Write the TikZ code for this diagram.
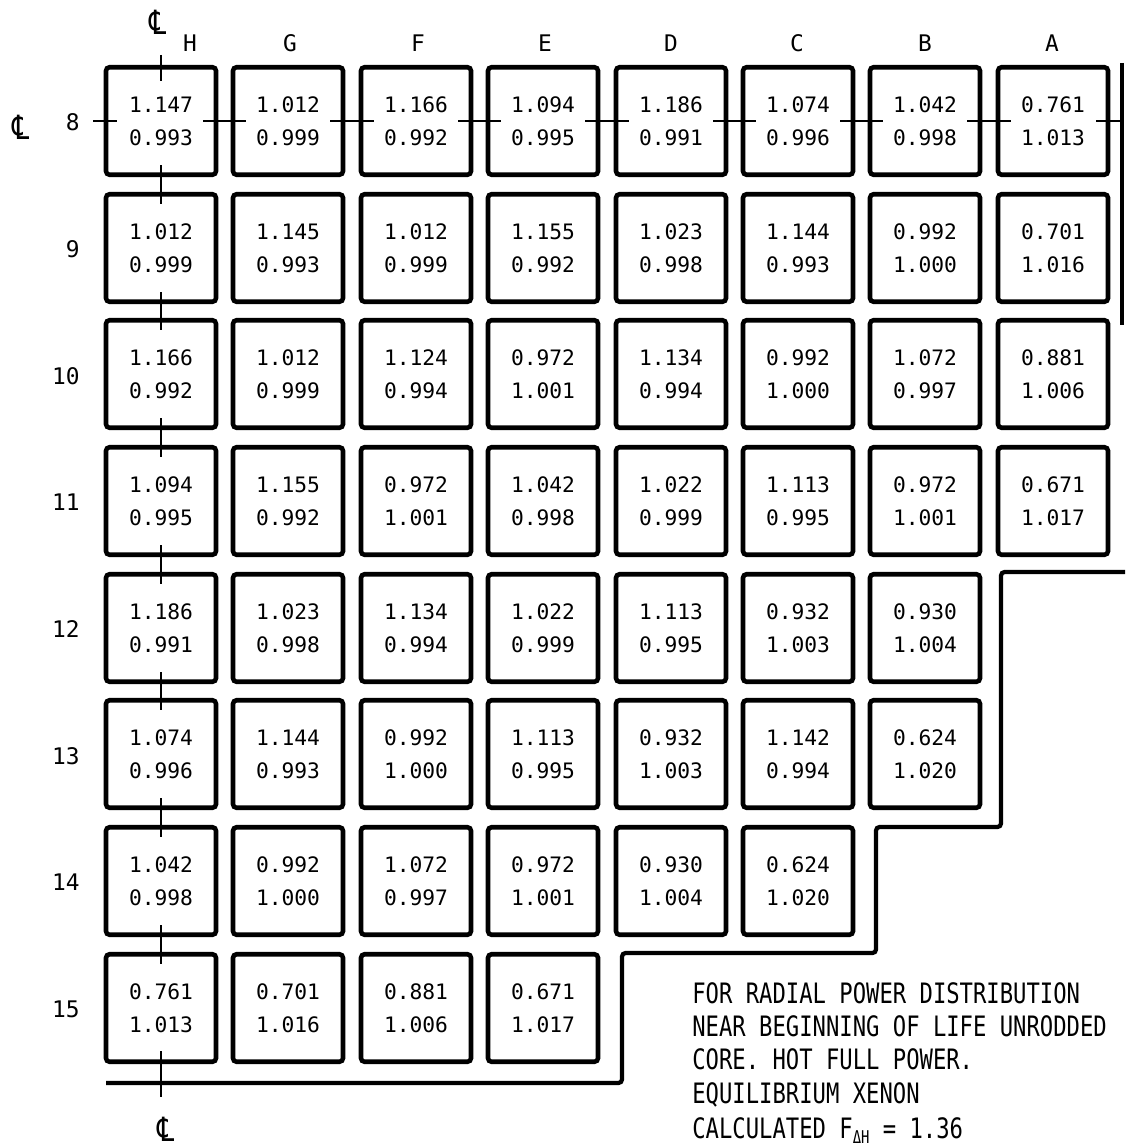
\documentclass[tikz,border=0pt]{standalone}
\usepackage{fontspec}
\usepackage{tikz}
\newfontfamily\leroy{DejaVu Sans Mono}
\newfontfamily\leroynarrow[FakeStretch=0.79]{DejaVu Sans Mono}
\newfontfamily\clfont[FakeStretch=0.8]{DejaVu Sans}
\newcommand{\clsym}{{\fontsize{19}{19}\selectfont\clfont ℄}}

\begin{document}
\begin{tikzpicture}[x=0.02cm, y=-0.02cm,
    cell/.style={draw, line width=2.6pt, rounded corners=2pt, minimum width=2.2cm, minimum height=2.15cm, inner sep=0pt, align=center, font=\fontsize{12.1}{18.8}\selectfont\leroy},
    tick/.style={line width=1.5pt},
    outline/.style={line width=2.4pt},
    hdr/.style={inner sep=0pt, font=\fontsize{13}{15}\selectfont\leroy},
    note/.style={inner sep=0pt, anchor=north west, align=left, font=\fontsize{16}{19}\selectfont\leroynarrow}]
    \useasboundingbox (0,0) rectangle (1125,1148);

    % Column and row labels
    \node[hdr] (clTop) at (158,22) {\clsym};
    \node[hdr] (colH) at (190,43) {H};
    \node[hdr] (colG) at (290,43) {G};
    \node[hdr] (colF) at (418,43) {F};
    \node[hdr] (colE) at (545,43) {E};
    \node[hdr] (colD) at (671,43) {D};
    \node[hdr] (colC) at (797,43) {C};
    \node[hdr] (colB) at (925,43) {B};
    \node[hdr] (colA) at (1052,43) {A};
    \node[hdr] (clLeft) at (21,127) {\clsym};
    \node[hdr, anchor=east] (row8) at (80,122) {8};
    \node[hdr, anchor=east] (row9) at (80,249) {9};
    \node[hdr, anchor=east] (row10) at (80,376) {10};
    \node[hdr, anchor=east] (row11) at (80,502) {11};
    \node[hdr, anchor=east] (row12) at (80,629) {12};
    \node[hdr, anchor=east] (row13) at (80,756) {13};
    \node[hdr, anchor=east] (row14) at (80,882) {14};
    \node[hdr, anchor=east] (row15) at (80,1009) {15};
    \node[hdr] (clBot) at (166,1129) {\clsym};

    % Row 8
    \node[cell] (H8) at (161,121) {1.147\\0.993};
    \node[cell] (G8) at (288,121) {1.012\\0.999};
    \node[cell] (F8) at (416,121) {1.166\\0.992};
    \node[cell] (E8) at (543,121) {1.094\\0.995};
    \node[cell] (D8) at (671,121) {1.186\\0.991};
    \node[cell] (C8) at (798,121) {1.074\\0.996};
    \node[cell] (B8) at (925,121) {1.042\\0.998};
    \node[cell] (A8) at (1053,121) {0.761\\1.013};

    % Row 9
    \node[cell] (H9) at (161,248) {1.012\\0.999};
    \node[cell] (G9) at (288,248) {1.145\\0.993};
    \node[cell] (F9) at (416,248) {1.012\\0.999};
    \node[cell] (E9) at (543,248) {1.155\\0.992};
    \node[cell] (D9) at (671,248) {1.023\\0.998};
    \node[cell] (C9) at (798,248) {1.144\\0.993};
    \node[cell] (B9) at (925,248) {0.992\\1.000};
    \node[cell] (A9) at (1053,248) {0.701\\1.016};

    % Row 10
    \node[cell] (H10) at (161,374) {1.166\\0.992};
    \node[cell] (G10) at (288,374) {1.012\\0.999};
    \node[cell] (F10) at (416,374) {1.124\\0.994};
    \node[cell] (E10) at (543,374) {0.972\\1.001};
    \node[cell] (D10) at (671,374) {1.134\\0.994};
    \node[cell] (C10) at (798,374) {0.992\\1.000};
    \node[cell] (B10) at (925,374) {1.072\\0.997};
    \node[cell] (A10) at (1053,374) {0.881\\1.006};

    % Row 11
    \node[cell] (H11) at (161,501) {1.094\\0.995};
    \node[cell] (G11) at (288,501) {1.155\\0.992};
    \node[cell] (F11) at (416,501) {0.972\\1.001};
    \node[cell] (E11) at (543,501) {1.042\\0.998};
    \node[cell] (D11) at (671,501) {1.022\\0.999};
    \node[cell] (C11) at (798,501) {1.113\\0.995};
    \node[cell] (B11) at (925,501) {0.972\\1.001};
    \node[cell] (A11) at (1053,501) {0.671\\1.017};

    % Row 12
    \node[cell] (H12) at (161,628) {1.186\\0.991};
    \node[cell] (G12) at (288,628) {1.023\\0.998};
    \node[cell] (F12) at (416,628) {1.134\\0.994};
    \node[cell] (E12) at (543,628) {1.022\\0.999};
    \node[cell] (D12) at (671,628) {1.113\\0.995};
    \node[cell] (C12) at (798,628) {0.932\\1.003};
    \node[cell] (B12) at (925,628) {0.930\\1.004};

    % Row 13
    \node[cell] (H13) at (161,754) {1.074\\0.996};
    \node[cell] (G13) at (288,754) {1.144\\0.993};
    \node[cell] (F13) at (416,754) {0.992\\1.000};
    \node[cell] (E13) at (543,754) {1.113\\0.995};
    \node[cell] (D13) at (671,754) {0.932\\1.003};
    \node[cell] (C13) at (798,754) {1.142\\0.994};
    \node[cell] (B13) at (925,754) {0.624\\1.020};

    % Row 14
    \node[cell] (H14) at (161,881) {1.042\\0.998};
    \node[cell] (G14) at (288,881) {0.992\\1.000};
    \node[cell] (F14) at (416,881) {1.072\\0.997};
    \node[cell] (E14) at (543,881) {0.972\\1.001};
    \node[cell] (D14) at (671,881) {0.930\\1.004};
    \node[cell] (C14) at (798,881) {0.624\\1.020};

    % Row 15
    \node[cell] (H15) at (161,1008) {0.761\\1.013};
    \node[cell] (G15) at (288,1008) {0.701\\1.016};
    \node[cell] (F15) at (416,1008) {0.881\\1.006};
    \node[cell] (E15) at (543,1008) {0.671\\1.017};

    % Centre line ticks
    \coordinate (tickL) at (93,121);
    \coordinate (tickR) at (1122,121);
    \coordinate (tickT) at (161,55);
    \coordinate (tickB) at (161,1097);
    \draw[tick, shorten >=-0.26cm] (tickL) -- (H8.west);
    \draw[tick, shorten <=-0.3cm, shorten >=-0.3cm] (H8.east) -- (G8.west);
    \draw[tick, shorten <=-0.3cm, shorten >=-0.3cm] (G8.east) -- (F8.west);
    \draw[tick, shorten <=-0.3cm, shorten >=-0.3cm] (F8.east) -- (E8.west);
    \draw[tick, shorten <=-0.3cm, shorten >=-0.3cm] (E8.east) -- (D8.west);
    \draw[tick, shorten <=-0.3cm, shorten >=-0.3cm] (D8.east) -- (C8.west);
    \draw[tick, shorten <=-0.3cm, shorten >=-0.3cm] (C8.east) -- (B8.west);
    \draw[tick, shorten <=-0.3cm, shorten >=-0.3cm] (B8.east) -- (A8.west);
    \draw[tick, shorten <=-0.28cm] (A8.east) -- (tickR);
    \draw[tick, shorten >=-0.32cm] (tickT) -- (H8.north);
    \draw[tick, shorten <=-0.24cm, shorten >=-0.24cm] (H8.south) -- (H9.north);
    \draw[tick, shorten <=-0.24cm, shorten >=-0.24cm] (H9.south) -- (H10.north);
    \draw[tick, shorten <=-0.24cm, shorten >=-0.24cm] (H10.south) -- (H11.north);
    \draw[tick, shorten <=-0.24cm, shorten >=-0.24cm] (H11.south) -- (H12.north);
    \draw[tick, shorten <=-0.24cm, shorten >=-0.24cm] (H12.south) -- (H13.north);
    \draw[tick, shorten <=-0.24cm, shorten >=-0.24cm] (H13.south) -- (H14.north);
    \draw[tick, shorten <=-0.24cm, shorten >=-0.24cm] (H14.south) -- (H15.north);
    \draw[tick, shorten <=-0.26cm] (H15.south) -- (tickB);

    % Core outline
    \draw[outline] (1122,63) -- (1122,325);
    \draw[outline, rounded corners=2pt] (1125,572) -- (1001,572) -- (1001,827) -- (876,827) -- (876,953) -- (622,953) -- (622,1083) -- (106,1083);

    % Notes
    \node[note] (notes) at (692,982) {FOR RADIAL POWER DISTRIBUTION\\NEAR BEGINNING OF LIFE UNRODDED\\CORE. HOT FULL POWER.\\EQUILIBRIUM XENON};
    \node[note] (calc) at (692,1117) {CALCULATED F\raisebox{-0.2em}{\fontsize{10}{10}\selectfont ΔH} = 1.36};
\end{tikzpicture}
\end{document}
